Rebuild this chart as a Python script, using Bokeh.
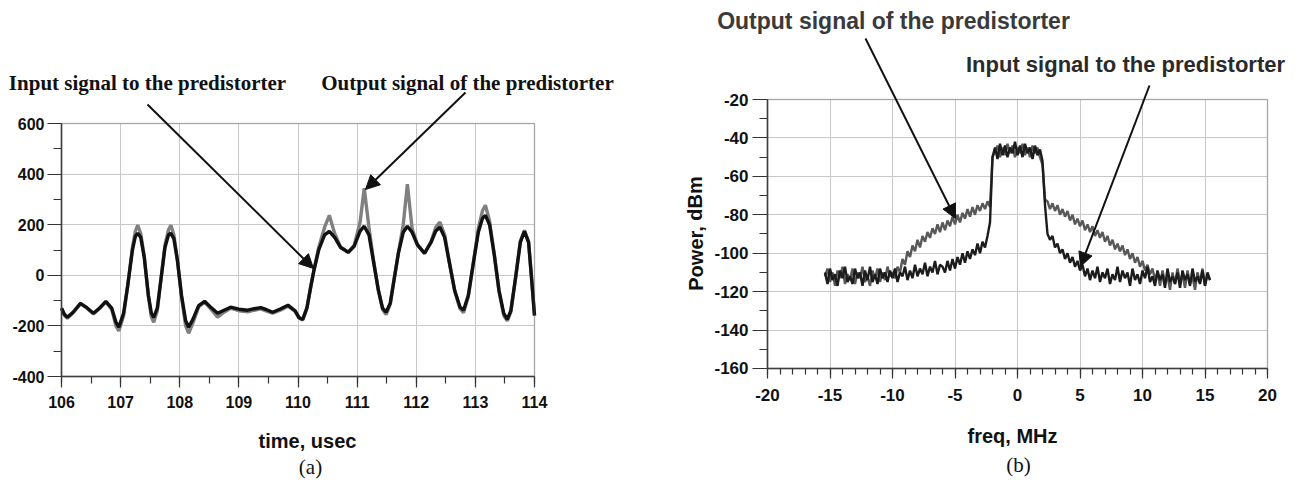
from bokeh.plotting import figure
from bokeh.layouts import row
from bokeh.models import (Range1d, SingleIntervalTicker, Label, Arrow, NormalHead, LinearAxis,
                          Grid, BoxAnnotation, PrintfTickFormatter)
from bokeh.embed import file_html
from bokeh.resources import INLINE

# ---------------- (a) time domain ----------------
time_us = [106.00,106.05,106.10,106.20,106.32,106.43,106.54,106.65,106.75,106.85,
           106.92,106.97,107.05,107.12,107.20,107.25,107.29,107.34,107.40,107.47,
           107.52,107.56,107.62,107.68,107.75,107.81,107.85,107.90,107.96,108.03,
           108.10,108.15,108.22,108.32,108.42,108.52,108.64,108.75,108.86,109.00,
           109.15,109.26,109.37,109.47,109.57,109.70,109.83,109.95,110.02,110.08,
           110.15,110.22,110.27,110.35,110.45,110.53,110.62,110.72,110.85,110.95,
           111.05,111.12,111.20,111.28,111.36,111.43,111.49,111.56,111.63,111.70,
           111.78,111.85,111.93,112.02,112.14,112.25,112.33,112.40,112.48,112.56,
           112.65,112.74,112.80,112.88,112.96,113.05,113.12,113.17,113.24,113.32,
           113.40,113.48,113.54,113.60,113.68,113.76,113.83,113.90,113.96,114.00]

input_signal = [-130,-155,-166,-145,-111,-128,-150,-128,-103,-130,
                -185,-205,-150,-40,100,155,166,150,70,-80,
                -150,-166,-130,-20,110,160,166,145,60,-80,
                -180,-205,-175,-120,-103,-125,-150,-138,-126,-134,
                -138,-132,-128,-136,-146,-133,-118,-140,-168,-174,
                -130,-40,20,100,160,174,150,110,91,115,
                175,194,160,50,-60,-130,-146,-110,-10,90,
                170,194,170,120,87,130,175,190,150,50,
                -60,-125,-138,-80,40,170,225,237,200,80,
                -60,-150,-174,-140,-10,130,174,130,-40,-158]

output_signal = [-130,-158,-170,-147,-113,-130,-153,-130,-106,-135,
                 -200,-220,-160,-40,110,175,198,165,75,-85,
                 -165,-186,-140,-20,120,180,198,160,62,-85,
                 -200,-229,-190,-125,-106,-132,-165,-146,-130,-140,
                 -144,-138,-133,-142,-150,-138,-122,-143,-170,-176,
                 -130,-40,22,110,190,237,165,112,91,118,
                 210,344,190,55,-60,-135,-155,-115,-10,92,
                 200,360,185,122,87,133,190,210,160,52,
                 -62,-132,-148,-85,40,185,255,277,215,82,
                 -65,-160,-180,-145,-10,135,178,132,-40,-160]

# ---------------- (b) spectrum ----------------
in_spectrum = [
    -110,-116,-108,-114,-111,-117,-109,-113,-107,-115,-112,-116,-108,-113,-110,-117,-109,-114,-107,-115,-111,-116,-108,-113,-110,-115,-109,
    -113,-108,-115,-110,-112,-107,-114,-109,-113,-106,-112,-108,-111,-105,-112,-107,-110,-104,-111,-106,
    -107,-110,-104,-109,-103,-108,-102,-106,-100,-105,-99,-103,-98,-101,-95,-100,-94,-97,-91,
    -84,-50,-45,-51,-43,-49,-44,-50,-45,-48,-42,-49,-44,-50,-43,-48,-45,-51,-44,-49,-46,-52,-75,
    -90,-93,-91,-97,-95,-100,-98,-103,-100,-105,-102,-107,-104,-109,
    -106,-112,-108,-114,-109,-113,-107,-115,-110,-113,-108,-116,-111,-114,-107,-115,-109,-113,-110,-117,
    -108,-114,-111,-116,-109,-113,-107,-115,-112,-117,-109,-114,-111,-118,-108,-115,-112,-116,-110,-118,
    -109,-114,-111,-117,-108,-115,-112,-116,-109,-117,-110,-114]

out_spectrum = [
    -112,-108,-115,-110,-117,-109,-113,-107,-116,-111,-114,-108,-116,-110,-113,-107,-115,-112,-117,-109,-113,-108,-115,-110,-114,-107,-112,
    -110,-113,-107,-110,-103,-106,-99,-102,-96,-99,-93,-97,-91,-94,-89,-92,-87,-90,-85,-89,
    -84,-88,-83,-86,-81,-85,-80,-84,-79,-82,-77,-81,-76,-80,-75,-78,-74,-77,-73,
    -76,-50,-47,-44,-50,-45,-49,-43,-48,-44,-50,-45,-48,-43,-49,-45,-50,-44,-48,-45,-50,-54,-72,
    -73,-77,-74,-78,-75,-80,-77,-81,-78,-83,-80,-85,-82,-86,
    -83,-88,-85,-89,-86,-91,-88,-92,-89,-94,-91,-96,-93,-98,-95,-99,-96,-101,-98,-103,-100,-105,-102,-107,-104,-109,-106,-111,
    -108,-114,-110,-117,-109,-115,-112,-119,-110,-116,-108,-115,-111,-118,-109,-116,-112,-119,-110,-115,-108,-117,-111,-114]

freq_start, freq_step = -15.4, 0.2
freq_in = [round(freq_start + freq_step * i, 2) for i in range(len(in_spectrum))]
freq_out = [round(freq_start + freq_step * i, 2) for i in range(len(out_spectrum))]

SANS = "Liberation Sans"
SERIF = "Liberation Serif"
W, H = 648, 480

# pixel -> data helpers (page pixels); plot boxes as in the reference
def lx(px): return 106 + (px - 61) / 59.125
def ly(py): return (274.8 - py) * 1000.0 / 253.0
def rx(px): return -20 + (px - 767) / 12.5
def ry(py): return -20 - (py - 99) / 1.9214


def make_fig(xr, yr):
    p = figure(width=W, height=H, x_range=Range1d(*xr), y_range=Range1d(*yr),
               output_backend="svg", toolbar_location=None,
               x_axis_location=None, y_axis_location=None,
               min_border=0, min_border_left=0, min_border_right=0,
               min_border_top=0, min_border_bottom=0)
    p.grid.visible = False
    p.outline_line_color = None
    p.background_fill_color = "white"
    p.border_fill_color = "white"
    return p


def add_axes(p, xb, yb, xt, yt, size, x_tick, y_tick, x_stand, y_stand):
    xa = LinearAxis(fixed_location=yb[0], bounds=xb, ticker=xt, formatter=PrintfTickFormatter(format="%d"))
    ya = LinearAxis(fixed_location=xb[0], bounds=yb, ticker=yt, formatter=PrintfTickFormatter(format="%d"))
    for ax in (xa, ya):
        ax.major_label_text_font = SANS
        ax.major_label_text_font_style = "bold"
        ax.major_label_text_font_size = size
        ax.major_label_text_color = "#111111"
        ax.axis_line_color = "#333333"
        ax.axis_line_width = 1.5
        ax.major_tick_line_color = "#333333"
        ax.minor_tick_line_color = "#333333"
        ax.major_tick_line_width = 1.2
        ax.minor_tick_line_width = 1.2
        ax.major_tick_in = 0
        ax.minor_tick_in = 0
    xa.major_tick_out, xa.minor_tick_out = x_tick
    ya.major_tick_out, ya.minor_tick_out = y_tick
    xa.major_label_standoff = x_stand
    ya.major_label_standoff = y_stand
    p.add_layout(xa, "below")
    p.add_layout(ya, "left")
    has_cross = "cross_bounds" in Grid.properties()
    for dim, tk, b, cb in ((0, xt, xb, yb), (1, yt, yb, xb)):
        g = Grid(dimension=dim, ticker=tk, bounds=b, grid_line_color="#c8c8c8", grid_line_width=1)
        if has_cross:
            g.cross_bounds = cb
        p.add_layout(g)
    p.add_layout(BoxAnnotation(left=xb[0], right=xb[1], bottom=yb[0], top=yb[1],
                               fill_alpha=0, line_color="#555555", line_width=1.5))


def lab(p, x, y, text, size, font=SANS, fstyle="bold", color="#111111", angle=0.0):
    p.add_layout(Label(x=x, y=y, text=text, text_font=font, text_font_size=size,
                       text_font_style=fstyle, text_color=color, text_align="center",
                       text_baseline="middle", angle=angle))


def arrow(p, x0, y0, x1, y1):
    p.add_layout(Arrow(end=NormalHead(size=14, fill_color="#111111", line_color="#111111"),
                       x_start=x0, y_start=y0, x_end=x1, y_end=y1,
                       line_color="#111111", line_width=2))


# ---------- left figure ----------
p1 = make_fig((lx(0), lx(W)), (ly(H), ly(0)))
add_axes(p1, (106, 114), (-400, 600),
         SingleIntervalTicker(interval=1, num_minor_ticks=2),
         SingleIntervalTicker(interval=200, num_minor_ticks=2), "16px", (11, 7), (14, 8), 8, 3)
p1.line(time_us, output_signal, line_color="#808080", line_width=3.4)
p1.line(time_us, input_signal, line_color="#111111", line_width=3.4)

lab(p1, lx(147), ly(82), "Input signal to the predistorter", "21px", font=SERIF)
lab(p1, lx(467), ly(82), "Output signal of the predistorter", "21px", font=SERIF)
lab(p1, lx(307), ly(440), "time, usec", "20px")
lab(p1, lx(310), ly(466), "(a)", "21px", font=SERIF, fstyle="normal")
arrow(p1, lx(147), ly(104), lx(313), ly(268))
arrow(p1, lx(465), ly(92), lx(365), ly(189))

# ---------- right figure (page x offset W) ----------
p2 = make_fig((rx(W), rx(2 * W)), (ry(H), ry(0)))
add_axes(p2, (-20, 20), (-160, -20),
         SingleIntervalTicker(interval=5, num_minor_ticks=5),
         SingleIntervalTicker(interval=20, num_minor_ticks=2), "17px", (10, 6), (15, 8), 11, 4)
p2.line(freq_out, out_spectrum, line_color="#585858", line_width=2.4)
p2.line(freq_in, in_spectrum, line_color="#1c1c1c", line_width=2.4)

lab(p2, rx(893), ry(20), "Output signal of the predistorter", "23px", color="#3a3a3a")
lab(p2, rx(1125), ry(64), "Input signal to the predistorter", "22px", color="#2a2a2a")
lab(p2, rx(1012), ry(435), "freq, MHz", "20px")
lab(p2, rx(1018), ry(464), "(b)", "21px", font=SERIF, fstyle="normal")
lab(p2, rx(695), ry(233), "Power, dBm", "20px", angle=1.5708)
arrow(p2, rx(865), ry(38), rx(955), ry(218))
arrow(p2, rx(1149), ry(85), rx(1080), ry(266))

layout = row(p1, p2)
open("out.html", "w").write(file_html(layout, INLINE))
